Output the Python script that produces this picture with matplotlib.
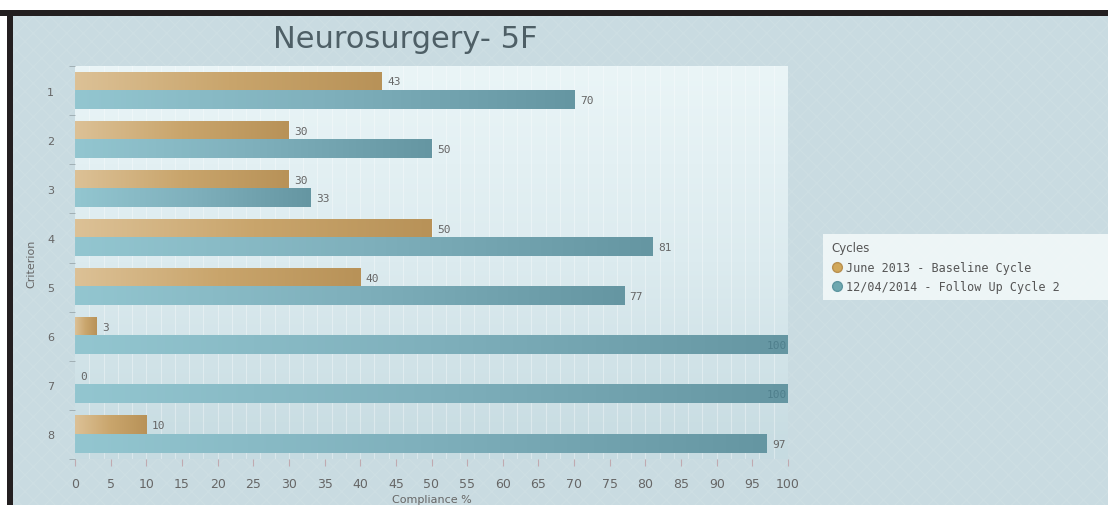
import numpy as np
import matplotlib
matplotlib.use("Agg")
import matplotlib.pyplot as plt
from matplotlib.colors import LinearSegmentedColormap
from matplotlib.patches import Rectangle
from matplotlib.lines import Line2D

# data
criteria = ["1", "2", "3", "4", "5", "6", "7", "8"]
baseline = [43, 30, 30, 50, 40, 3, 0, 10]
follow_up = [70, 50, 33, 81, 77, 100, 100, 97]
series_names = ["June 2013 - Baseline Cycle", "12/04/2014 - Follow Up Cycle 2"]
x_ticks = list(range(0, 101, 5))

BG = "#c9dbe1"
TXT = "#666666"
GOLD_CMAP = LinearSegmentedColormap.from_list("gold", ["#dcc196", "#c9a56c", "#b89258"])
TEAL_CMAP = LinearSegmentedColormap.from_list("teal", ["#93c6d0", "#7fb0bc", "#6596a2"])

fig = plt.figure(figsize=(11.08, 5.06), dpi=100)
fig.patch.set_facecolor(BG)

# faint diagonal texture + black frame on top/left
fig.patches.append(Rectangle((0, 0), 1, 1, transform=fig.transFigure, fill=False,
                             hatch="xx", ec="#cddee3", lw=0, zorder=-5))
fig.patches.append(Rectangle((0, 1 - 11 / 506), 1, 11 / 506, transform=fig.transFigure,
                             fc="white", ec="none", zorder=5))
fig.patches.append(Rectangle((0, 0), 7 / 1108, 1, transform=fig.transFigure,
                             fc="white", ec="none", zorder=5))
fig.patches.append(Rectangle((0, 1 - 17 / 506), 1, 6 / 506, transform=fig.transFigure,
                             fc="#231f20", ec="none", zorder=6))
fig.patches.append(Rectangle((7 / 1108, 0), 6 / 1108, 1 - 11 / 506, transform=fig.transFigure,
                             fc="#231f20", ec="none", zorder=6))

ax = fig.add_axes([75 / 1108, 46 / 506, 713 / 1108, 393 / 506])
ax.set_facecolor("none")

# plot area gradient
grad = np.linspace(0, 1, 256).reshape(-1, 1)
bg_cmap = LinearSegmentedColormap.from_list("bg", ["#eaf5f7", "#dcebef", "#c6dbe1"])
ax.imshow(grad, extent=[0, 1, 0, 1], transform=ax.transAxes, cmap=bg_cmap,
          aspect="auto", zorder=0, origin="upper")

y = np.arange(1, len(criteria) + 1)
h = 0.37
b1 = ax.barh(y - h / 2, baseline, height=h, color="#c9a56c", zorder=2)
b2 = ax.barh(y + h / 2, follow_up, height=h, color="#7fb0bc", zorder=2)

hgrad = np.linspace(0, 1, 256).reshape(1, -1)
for bars, cmap in ((b1, GOLD_CMAP), (b2, TEAL_CMAP)):
    for p in bars:
        w = p.get_width()
        if w <= 0:
            continue
        ax.imshow(hgrad, extent=[p.get_x(), p.get_x() + w, p.get_y() + p.get_height(), p.get_y()],
                  cmap=cmap, aspect="auto", zorder=3)

# value labels
for p, v in zip(b1, baseline):
    ax.text(v + 0.8, p.get_y() + p.get_height() / 2, str(v), fontsize=8,
            family="DejaVu Sans Mono", color=TXT, va="center", ha="left", zorder=5)
for p, v in zip(b2, follow_up):
    if v >= 99.5:
        ax.text(v - 0.2, p.get_y() + p.get_height() / 2, str(v), fontsize=8,
                family="DejaVu Sans Mono", color="#4f7f8c", va="center", ha="right", zorder=5)
    else:
        ax.text(v + 0.8, p.get_y() + p.get_height() / 2, str(v), fontsize=8,
                family="DejaVu Sans Mono", color=TXT, va="center", ha="left", zorder=5)

ax.set_xlim(0, 100)
ax.set_ylim(len(criteria) + 0.5, 0.5)

# faint vertical lines
for xv in np.arange(2, 100, 2):
    ax.axvline(xv, color="white", lw=0.8, alpha=0.35, zorder=1)

ax.set_xticks(x_ticks)
ax.set_xticklabels([str(t) for t in x_ticks])
ax.set_yticks(y)
ax.set_yticklabels(criteria)
ax.set_yticks(np.arange(0.5, len(criteria) + 1, 1), minor=True)
ax.tick_params(axis="y", which="major", length=0, pad=15, labelsize=8, labelcolor=TXT)
ax.tick_params(axis="y", which="minor", length=4, color="#9aa8ad", direction="out")
ax.tick_params(axis="x", which="major", length=5, color="#c0aab0", pad=8,
               labelsize=9, labelcolor=TXT)
for s in ax.spines.values():
    s.set_visible(False)

ax.set_xlabel("Compliance %", fontsize=8, color=TXT, labelpad=3)
ax.set_ylabel("Criterion", fontsize=8, color=TXT, labelpad=8)

fig.text(405 / 1108, 1 - 40 / 506, "Neurosurgery- 5F", fontsize=22, color="#4e5f66",
         ha="center", va="center")

# legend box running to the right edge
fig.patches.append(Rectangle((823 / 1108, 1 - 301 / 506), 1 - 823 / 1108, 66 / 506,
                             transform=fig.transFigure, fc="#f2f8f9", ec="none",
                             alpha=0.9, zorder=1))
handles = [Line2D([], [], marker="o", ls="none", ms=7, mfc="#d1a85a", mec="#b99050"),
           Line2D([], [], marker="o", ls="none", ms=7, mfc="#6ea8b0", mec="#5d96a0")]
leg = fig.legend(handles, series_names, title="Cycles", loc="upper left",
                 bbox_to_anchor=(822 / 1108, 1 - 233 / 506), frameon=False,
                 handletextpad=0.2, borderpad=0.3, labelspacing=0.55,
                 handlelength=1.0, alignment="left", title_fontsize=8.5,
                 prop={"family": "DejaVu Sans Mono", "size": 8.5})
for t in leg.get_texts():
    t.set_color("#555555")
leg.get_title().set_color("#555555")

fig.savefig("out.png", dpi=100, facecolor=fig.get_facecolor())
